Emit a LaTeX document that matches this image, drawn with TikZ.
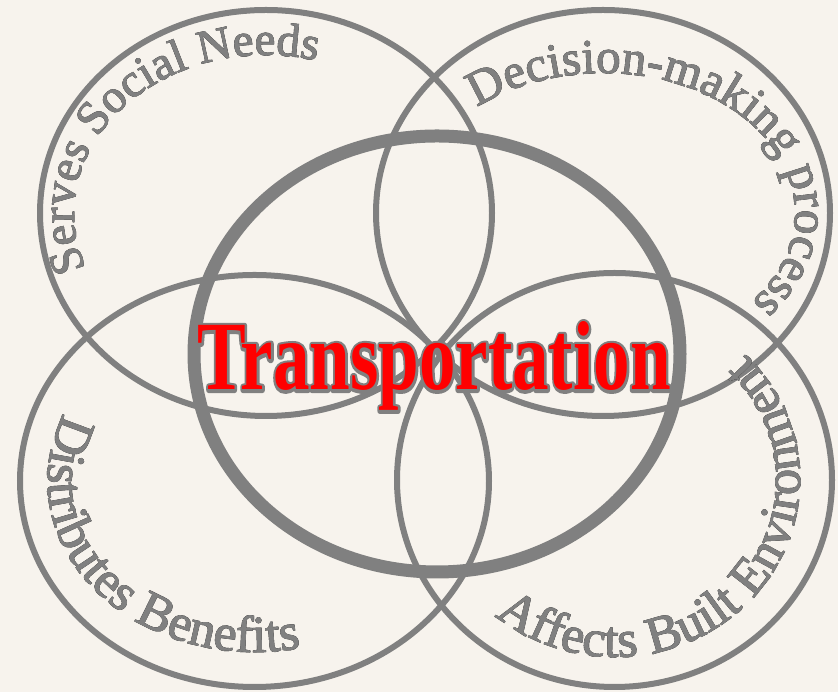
\documentclass[tikz,border=0pt]{standalone}
\usepackage{fontspec}
\setmainfont{Liberation Serif}
\newfontfamily\labelserif[FakeBold=1.5]{Liberation Serif}
\usetikzlibrary{decorations.text}
\definecolor{paper}{HTML}{F7F3ED}
\definecolor{ring}{HTML}{808080}
% curved label: #1 font size, #2 path, #3 text; dark copy underneath, grey on top
\newcommand\ringlabel[3]{%
  \path[decorate, decoration={text along path, text align=center,
      text color=black, text={|\labelserif\fontsize{#1}{#1}\selectfont|#3}},
      xshift=-1.8pt, yshift=1.5pt] #2;
  \path[decorate, decoration={text along path, text align=center,
      text color=ring, text={|\labelserif\fontsize{#1}{#1}\selectfont|#3}}] #2;
}
% outlined glyphs (stroke only) for the title's grey rim
\newcommand\rimtext[1]{\special{pdf:literal direct 1 Tr 6 w 1 j 1 J 0.5 0.5 0.5 RG}#1\special{pdf:literal direct 0 Tr}}
\begin{document}
\begin{tikzpicture}[x=1pt,y=1pt,
  ringline/.style={draw=ring, line width=6pt},
  hubline/.style={draw=ring, line width=13pt},
  titletext/.style={anchor=base, xscale=0.745, inner sep=0pt,
      font=\bfseries\fontsize{98}{98}\selectfont}]
\fill[paper] (0,0) rectangle (838,692);
\useasboundingbox (0,0) rectangle (838,692);

\coordinate (tl) at (266,479);
\coordinate (tr) at (603,479);
\coordinate (bl) at (254.5,211);
\coordinate (br) at (614.5,212);
\coordinate (hub) at (437,338);

% four outer rings
\draw[ringline] (tl) ellipse [x radius=226pt, y radius=203pt];
\draw[ringline] (tr) ellipse [x radius=227pt, y radius=203pt];
\draw[ringline] (bl) ellipse [x radius=234.5pt, y radius=206pt];
\draw[ringline] (br) ellipse [x radius=217.5pt, y radius=207pt];
% central ring
\draw[hubline] (hub) ellipse [x radius=243pt, y radius=218pt];

% labels along the rings
\ringlabel{47}{(tl) ++(238.5:192pt and 158pt) arc[start angle=238.5, end angle=38.5, x radius=192pt, y radius=158pt]}{Serves Social Needs}
\ringlabel{49}{(tr) ++(146:192pt and 140pt) arc[start angle=146, end angle=-54, x radius=192pt, y radius=140pt]}{Decision-making process}
\ringlabel{52}{(bl) ++(119:207pt and 171pt) arc[start angle=119, end angle=319, x radius=207pt, y radius=171pt]}{Distributes Benefits}
\ringlabel{52}{(br) ++(217.5:185.5pt and 177pt) arc[start angle=217.5, end angle=417.5, x radius=185.5pt, y radius=177pt]}{Affects Built Environment}

% centre title: grey rim, red glyphs on top
\node[titletext] (titlerim) at (434,302) {\rimtext{Transportation}};
\node[titletext, text=red] (title) at (434,302) {Transportation};
\end{tikzpicture}
\end{document}
